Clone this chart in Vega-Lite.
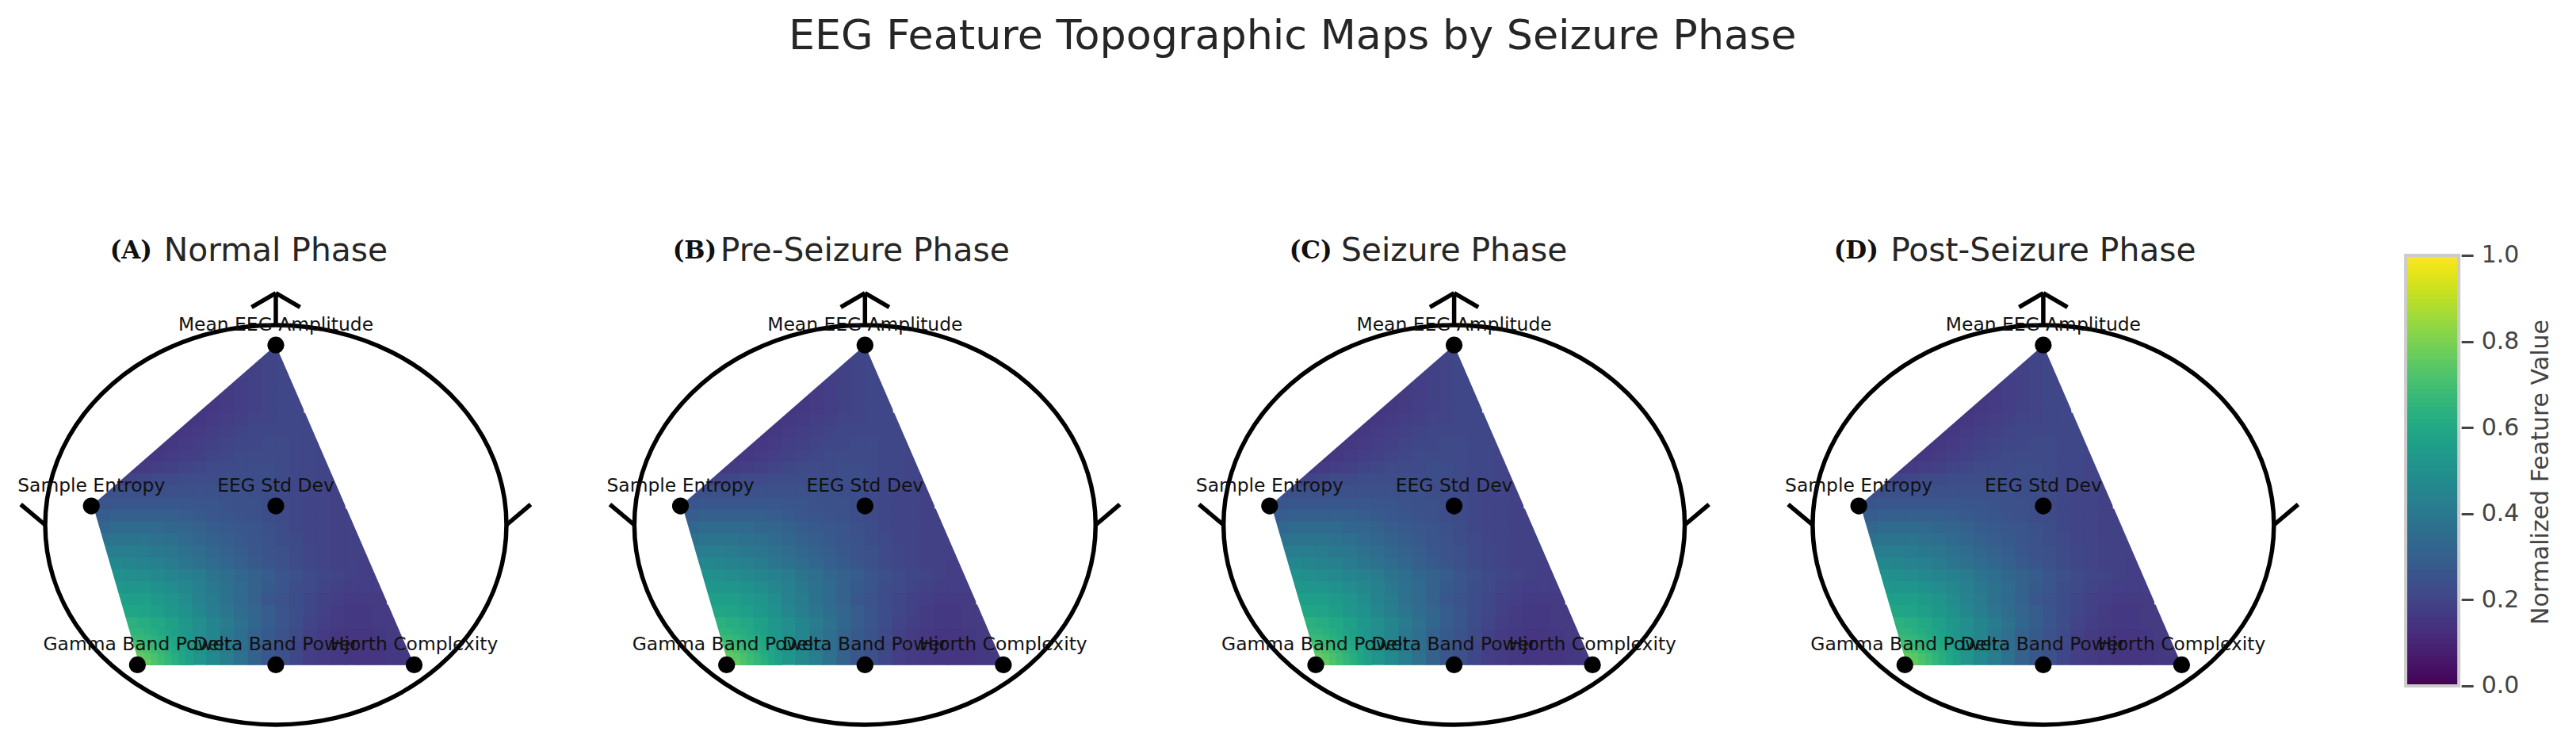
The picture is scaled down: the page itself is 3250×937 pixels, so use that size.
{"$schema":"https://vega.github.io/schema/vega-lite/v6.json","background":"white","padding":{"left":0,"top":20,"right":0,"bottom":0},"config":{"font":"DejaVu Sans","view":{"stroke":null}},"title":{"text":"EEG Feature Topographic Maps by Seizure Phase","anchor":"start","dx":995,"offset":222,"fontSize":52.3,"fontWeight":"normal","color":"#262626"},"bounds":"flush","spacing":47.3,
"datasets":{
"head":[{"i":0,"x":1,"y":0},{"i":1,"x":0.966,"y":0.259},{"i":2,"x":0.866,"y":0.5},{"i":3,"x":0.707,"y":0.707},{"i":4,"x":0.5,"y":0.866},{"i":5,"x":0.259,"y":0.966},{"i":6,"x":0,"y":1},{"i":7,"x":-0.259,"y":0.966},{"i":8,"x":-0.5,"y":0.866},{"i":9,"x":-0.707,"y":0.707},{"i":10,"x":-0.866,"y":0.5},{"i":11,"x":-0.966,"y":0.259},{"i":12,"x":-1,"y":0},{"i":13,"x":-0.966,"y":-0.259},{"i":14,"x":-0.866,"y":-0.5},{"i":15,"x":-0.707,"y":-0.707},{"i":16,"x":-0.5,"y":-0.866},{"i":17,"x":-0.259,"y":-0.966},{"i":18,"x":0,"y":-1},{"i":19,"x":0.259,"y":-0.966},{"i":20,"x":0.5,"y":-0.866},{"i":21,"x":0.707,"y":-0.707},{"i":22,"x":0.866,"y":-0.5},{"i":23,"x":0.966,"y":-0.259}],
"strokes":[{"x":0,"y":1,"x2":0,"y2":1.16},{"x":-0.105,"y":1.09,"x2":0,"y2":1.16},{"x":0.105,"y":1.09,"x2":0,"y2":1.16},{"x":-1,"y":0,"x2":-1.106,"y2":0.103},{"x":1,"y":0,"x2":1.105,"y2":0.103}],
"mask":[{"x":0.003,"y":1.031,"x2":0.685,"y2":-0.787},{"x":-0.909,"y":0.059,"x2":0.046,"y2":1.02},{"x":-0.875,"y":0.2245,"x2":-0.617,"y2":-0.7985}],
"electrodes":[{"x":0,"y":0.9,"name":"Mean EEG Amplitude"},{"x":0,"y":0.095,"name":"EEG Std Dev"},{"x":-0.8,"y":0.095,"name":"Sample Entropy"},{"x":-0.6,"y":-0.7,"name":"Gamma Band Power"},{"x":0,"y":-0.7,"name":"Delta Band Power"},{"x":0.6,"y":-0.7,"name":"Hjorth Complexity"}],
"bar":[{"v":0.005},{"v":0.015},{"v":0.025},{"v":0.035},{"v":0.045},{"v":0.055},{"v":0.065},{"v":0.075},{"v":0.085},{"v":0.095},{"v":0.105},{"v":0.115},{"v":0.125},{"v":0.135},{"v":0.145},{"v":0.155},{"v":0.165},{"v":0.175},{"v":0.185},{"v":0.195},{"v":0.205},{"v":0.215},{"v":0.225},{"v":0.235},{"v":0.245},{"v":0.255},{"v":0.265},{"v":0.275},{"v":0.285},{"v":0.295},{"v":0.305},{"v":0.315},{"v":0.325},{"v":0.335},{"v":0.345},{"v":0.355},{"v":0.365},{"v":0.375},{"v":0.385},{"v":0.395},{"v":0.405},{"v":0.415},{"v":0.425},{"v":0.435},{"v":0.445},{"v":0.455},{"v":0.465},{"v":0.475},{"v":0.485},{"v":0.495},{"v":0.505},{"v":0.515},{"v":0.525},{"v":0.535},{"v":0.545},{"v":0.555},{"v":0.565},{"v":0.575},{"v":0.585},{"v":0.595},{"v":0.605},{"v":0.615},{"v":0.625},{"v":0.635},{"v":0.645},{"v":0.655},{"v":0.665},{"v":0.675},{"v":0.685},{"v":0.695},{"v":0.705},{"v":0.715},{"v":0.725},{"v":0.735},{"v":0.745},{"v":0.755},{"v":0.765},{"v":0.775},{"v":0.785},{"v":0.795},{"v":0.805},{"v":0.815},{"v":0.825},{"v":0.835},{"v":0.845},{"v":0.855},{"v":0.865},{"v":0.875},{"v":0.885},{"v":0.895},{"v":0.905},{"v":0.915},{"v":0.925},{"v":0.935},{"v":0.945},{"v":0.955},{"v":0.965},{"v":0.975},{"v":0.985},{"v":0.995}],
"fine":[
{"x":-0.615,"y":-0.685,"v":0.8},{"x":-0.585,"y":-0.685,"v":0.79},{"x":-0.555,"y":-0.685,"v":0.76},{"x":-0.525,"y":-0.685,"v":0.72},{"x":-0.495,"y":-0.685,"v":0.69},{"x":-0.465,"y":-0.685,"v":0.66},{"x":-0.435,"y":-0.685,"v":0.63},{"x":-0.405,"y":-0.685,"v":0.6},{"x":-0.375,"y":-0.685,"v":0.57},
{"x":-0.615,"y":-0.655,"v":0.76},{"x":-0.585,"y":-0.655,"v":0.76},{"x":-0.555,"y":-0.655,"v":0.74},{"x":-0.525,"y":-0.655,"v":0.71},{"x":-0.495,"y":-0.655,"v":0.68},{"x":-0.465,"y":-0.655,"v":0.65},{"x":-0.435,"y":-0.655,"v":0.62},{"x":-0.405,"y":-0.655,"v":0.59},{"x":-0.375,"y":-0.655,"v":0.56},
{"x":-0.615,"y":-0.625,"v":0.74},{"x":-0.585,"y":-0.625,"v":0.73},{"x":-0.555,"y":-0.625,"v":0.71},{"x":-0.525,"y":-0.625,"v":0.68},{"x":-0.495,"y":-0.625,"v":0.66},{"x":-0.465,"y":-0.625,"v":0.63},{"x":-0.435,"y":-0.625,"v":0.61},{"x":-0.405,"y":-0.625,"v":0.58},{"x":-0.375,"y":-0.625,"v":0.55},
{"x":-0.615,"y":-0.595,"v":0.71},{"x":-0.585,"y":-0.595,"v":0.7},{"x":-0.555,"y":-0.595,"v":0.68},{"x":-0.525,"y":-0.595,"v":0.66},{"x":-0.495,"y":-0.595,"v":0.64},{"x":-0.465,"y":-0.595,"v":0.62},{"x":-0.435,"y":-0.595,"v":0.59},{"x":-0.405,"y":-0.595,"v":0.57},{"x":-0.375,"y":-0.595,"v":0.54},
{"x":-0.615,"y":-0.565,"v":0.68},{"x":-0.585,"y":-0.565,"v":0.67},{"x":-0.555,"y":-0.565,"v":0.66},{"x":-0.525,"y":-0.565,"v":0.64},{"x":-0.495,"y":-0.565,"v":0.62},{"x":-0.465,"y":-0.565,"v":0.6},{"x":-0.435,"y":-0.565,"v":0.58},{"x":-0.405,"y":-0.565,"v":0.56},{"x":-0.375,"y":-0.565,"v":0.53},
{"x":-0.615,"y":-0.535,"v":0.65},{"x":-0.585,"y":-0.535,"v":0.65},{"x":-0.555,"y":-0.535,"v":0.63},{"x":-0.525,"y":-0.535,"v":0.62},{"x":-0.495,"y":-0.535,"v":0.6},{"x":-0.465,"y":-0.535,"v":0.58},{"x":-0.435,"y":-0.535,"v":0.56},{"x":-0.405,"y":-0.535,"v":0.54},{"x":-0.375,"y":-0.535,"v":0.52}],
"cells":[
{"x":-0.63,"y":-0.67,"v":0.78},{"x":-0.57,"y":-0.67,"v":0.76},{"x":-0.51,"y":-0.67,"v":0.7},{"x":-0.45,"y":-0.67,"v":0.64},{"x":-0.39,"y":-0.67,"v":0.58},{"x":-0.33,"y":-0.67,"v":0.52},{"x":-0.27,"y":-0.67,"v":0.47},{"x":-0.21,"y":-0.67,"v":0.42},{"x":-0.15,"y":-0.67,"v":0.37},{"x":-0.09,"y":-0.67,"v":0.31},{"x":-0.03,"y":-0.67,"v":0.27},{"x":0.03,"y":-0.67,"v":0.24},{"x":0.09,"y":-0.67,"v":0.21},{"x":0.15,"y":-0.67,"v":0.18},{"x":0.21,"y":-0.67,"v":0.17},{"x":0.27,"y":-0.67,"v":0.16},{"x":0.33,"y":-0.67,"v":0.15},{"x":0.39,"y":-0.67,"v":0.15},{"x":0.45,"y":-0.67,"v":0.15},{"x":0.51,"y":-0.67,"v":0.16},{"x":0.57,"y":-0.67,"v":0.16},
{"x":-0.63,"y":-0.61,"v":0.74},{"x":-0.57,"y":-0.61,"v":0.72},{"x":-0.51,"y":-0.61,"v":0.67},{"x":-0.45,"y":-0.61,"v":0.62},{"x":-0.39,"y":-0.61,"v":0.57},{"x":-0.33,"y":-0.61,"v":0.51},{"x":-0.27,"y":-0.61,"v":0.46},{"x":-0.21,"y":-0.61,"v":0.41},{"x":-0.15,"y":-0.61,"v":0.36},{"x":-0.09,"y":-0.61,"v":0.31},{"x":-0.03,"y":-0.61,"v":0.27},{"x":0.03,"y":-0.61,"v":0.24},{"x":0.09,"y":-0.61,"v":0.21},{"x":0.15,"y":-0.61,"v":0.18},{"x":0.21,"y":-0.61,"v":0.17},{"x":0.27,"y":-0.61,"v":0.16},{"x":0.33,"y":-0.61,"v":0.15},{"x":0.39,"y":-0.61,"v":0.15},{"x":0.45,"y":-0.61,"v":0.15},{"x":0.51,"y":-0.61,"v":0.16},{"x":0.57,"y":-0.61,"v":0.17},
{"x":-0.63,"y":-0.55,"v":0.68},{"x":-0.57,"y":-0.55,"v":0.67},{"x":-0.51,"y":-0.55,"v":0.63},{"x":-0.45,"y":-0.55,"v":0.59},{"x":-0.39,"y":-0.55,"v":0.54},{"x":-0.33,"y":-0.55,"v":0.49},{"x":-0.27,"y":-0.55,"v":0.45},{"x":-0.21,"y":-0.55,"v":0.4},{"x":-0.15,"y":-0.55,"v":0.36},{"x":-0.09,"y":-0.55,"v":0.31},{"x":-0.03,"y":-0.55,"v":0.28},{"x":0.03,"y":-0.55,"v":0.25},{"x":0.09,"y":-0.55,"v":0.22},{"x":0.15,"y":-0.55,"v":0.19},{"x":0.21,"y":-0.55,"v":0.17},{"x":0.27,"y":-0.55,"v":0.16},{"x":0.33,"y":-0.55,"v":0.15},{"x":0.39,"y":-0.55,"v":0.15},{"x":0.45,"y":-0.55,"v":0.16},{"x":0.51,"y":-0.55,"v":0.17},{"x":0.57,"y":-0.55,"v":0.17},
{"x":-0.63,"y":-0.49,"v":0.64},{"x":-0.57,"y":-0.49,"v":0.62},{"x":-0.51,"y":-0.49,"v":0.6},{"x":-0.45,"y":-0.49,"v":0.57},{"x":-0.39,"y":-0.49,"v":0.53},{"x":-0.33,"y":-0.49,"v":0.49},{"x":-0.27,"y":-0.49,"v":0.45},{"x":-0.21,"y":-0.49,"v":0.41},{"x":-0.15,"y":-0.49,"v":0.37},{"x":-0.09,"y":-0.49,"v":0.33},{"x":-0.03,"y":-0.49,"v":0.29},{"x":0.03,"y":-0.49,"v":0.26},{"x":0.09,"y":-0.49,"v":0.23},{"x":0.15,"y":-0.49,"v":0.2},{"x":0.21,"y":-0.49,"v":0.18},{"x":0.27,"y":-0.49,"v":0.17},{"x":0.33,"y":-0.49,"v":0.16},{"x":0.39,"y":-0.49,"v":0.16},{"x":0.45,"y":-0.49,"v":0.17},{"x":0.51,"y":-0.49,"v":0.17},
{"x":-0.69,"y":-0.43,"v":0.6},{"x":-0.63,"y":-0.43,"v":0.59},{"x":-0.57,"y":-0.43,"v":0.58},{"x":-0.51,"y":-0.43,"v":0.56},{"x":-0.45,"y":-0.43,"v":0.53},{"x":-0.39,"y":-0.43,"v":0.5},{"x":-0.33,"y":-0.43,"v":0.46},{"x":-0.27,"y":-0.43,"v":0.42},{"x":-0.21,"y":-0.43,"v":0.39},{"x":-0.15,"y":-0.43,"v":0.35},{"x":-0.09,"y":-0.43,"v":0.32},{"x":-0.03,"y":-0.43,"v":0.29},{"x":0.03,"y":-0.43,"v":0.26},{"x":0.09,"y":-0.43,"v":0.23},{"x":0.15,"y":-0.43,"v":0.21},{"x":0.21,"y":-0.43,"v":0.19},{"x":0.27,"y":-0.43,"v":0.17},{"x":0.33,"y":-0.43,"v":0.16},{"x":0.39,"y":-0.43,"v":0.16},{"x":0.45,"y":-0.43,"v":0.17},{"x":0.51,"y":-0.43,"v":0.17},
{"x":-0.69,"y":-0.37,"v":0.57},{"x":-0.63,"y":-0.37,"v":0.56},{"x":-0.57,"y":-0.37,"v":0.56},{"x":-0.51,"y":-0.37,"v":0.54},{"x":-0.45,"y":-0.37,"v":0.52},{"x":-0.39,"y":-0.37,"v":0.48},{"x":-0.33,"y":-0.37,"v":0.44},{"x":-0.27,"y":-0.37,"v":0.41},{"x":-0.21,"y":-0.37,"v":0.37},{"x":-0.15,"y":-0.37,"v":0.34},{"x":-0.09,"y":-0.37,"v":0.31},{"x":-0.03,"y":-0.37,"v":0.27},{"x":0.03,"y":-0.37,"v":0.25},{"x":0.09,"y":-0.37,"v":0.23},{"x":0.15,"y":-0.37,"v":0.21},{"x":0.21,"y":-0.37,"v":0.19},{"x":0.27,"y":-0.37,"v":0.18},{"x":0.33,"y":-0.37,"v":0.17},{"x":0.39,"y":-0.37,"v":0.17},{"x":0.45,"y":-0.37,"v":0.17},
{"x":-0.69,"y":-0.31,"v":0.53},{"x":-0.63,"y":-0.31,"v":0.52},{"x":-0.57,"y":-0.31,"v":0.52},{"x":-0.51,"y":-0.31,"v":0.5},{"x":-0.45,"y":-0.31,"v":0.48},{"x":-0.39,"y":-0.31,"v":0.46},{"x":-0.33,"y":-0.31,"v":0.43},{"x":-0.27,"y":-0.31,"v":0.4},{"x":-0.21,"y":-0.31,"v":0.37},{"x":-0.15,"y":-0.31,"v":0.34},{"x":-0.09,"y":-0.31,"v":0.31},{"x":-0.03,"y":-0.31,"v":0.28},{"x":0.03,"y":-0.31,"v":0.26},{"x":0.09,"y":-0.31,"v":0.23},{"x":0.15,"y":-0.31,"v":0.22},{"x":0.21,"y":-0.31,"v":0.2},{"x":0.27,"y":-0.31,"v":0.19},{"x":0.33,"y":-0.31,"v":0.18},{"x":0.39,"y":-0.31,"v":0.18},{"x":0.45,"y":-0.31,"v":0.18},
{"x":-0.69,"y":-0.25,"v":0.5},{"x":-0.63,"y":-0.25,"v":0.49},{"x":-0.57,"y":-0.25,"v":0.48},{"x":-0.51,"y":-0.25,"v":0.47},{"x":-0.45,"y":-0.25,"v":0.45},{"x":-0.39,"y":-0.25,"v":0.43},{"x":-0.33,"y":-0.25,"v":0.41},{"x":-0.27,"y":-0.25,"v":0.38},{"x":-0.21,"y":-0.25,"v":0.36},{"x":-0.15,"y":-0.25,"v":0.33},{"x":-0.09,"y":-0.25,"v":0.31},{"x":-0.03,"y":-0.25,"v":0.29},{"x":0.03,"y":-0.25,"v":0.26},{"x":0.09,"y":-0.25,"v":0.24},{"x":0.15,"y":-0.25,"v":0.22},{"x":0.21,"y":-0.25,"v":0.21},{"x":0.27,"y":-0.25,"v":0.2},{"x":0.33,"y":-0.25,"v":0.19},{"x":0.39,"y":-0.25,"v":0.18},{"x":0.45,"y":-0.25,"v":0.18},
{"x":-0.75,"y":-0.19,"v":0.46},{"x":-0.69,"y":-0.19,"v":0.46},{"x":-0.63,"y":-0.19,"v":0.45},{"x":-0.57,"y":-0.19,"v":0.44},{"x":-0.51,"y":-0.19,"v":0.43},{"x":-0.45,"y":-0.19,"v":0.41},{"x":-0.39,"y":-0.19,"v":0.39},{"x":-0.33,"y":-0.19,"v":0.37},{"x":-0.27,"y":-0.19,"v":0.35},{"x":-0.21,"y":-0.19,"v":0.33},{"x":-0.15,"y":-0.19,"v":0.3},{"x":-0.09,"y":-0.19,"v":0.28},{"x":-0.03,"y":-0.19,"v":0.26},{"x":0.03,"y":-0.19,"v":0.24},{"x":0.09,"y":-0.19,"v":0.22},{"x":0.15,"y":-0.19,"v":0.21},{"x":0.21,"y":-0.19,"v":0.2},{"x":0.27,"y":-0.19,"v":0.19},{"x":0.33,"y":-0.19,"v":0.19},{"x":0.39,"y":-0.19,"v":0.18},
{"x":-0.75,"y":-0.13,"v":0.42},{"x":-0.69,"y":-0.13,"v":0.42},{"x":-0.63,"y":-0.13,"v":0.42},{"x":-0.57,"y":-0.13,"v":0.41},{"x":-0.51,"y":-0.13,"v":0.4},{"x":-0.45,"y":-0.13,"v":0.39},{"x":-0.39,"y":-0.13,"v":0.37},{"x":-0.33,"y":-0.13,"v":0.35},{"x":-0.27,"y":-0.13,"v":0.33},{"x":-0.21,"y":-0.13,"v":0.31},{"x":-0.15,"y":-0.13,"v":0.29},{"x":-0.09,"y":-0.13,"v":0.27},{"x":-0.03,"y":-0.13,"v":0.25},{"x":0.03,"y":-0.13,"v":0.24},{"x":0.09,"y":-0.13,"v":0.22},{"x":0.15,"y":-0.13,"v":0.21},{"x":0.21,"y":-0.13,"v":0.2},{"x":0.27,"y":-0.13,"v":0.19},{"x":0.33,"y":-0.13,"v":0.19},{"x":0.39,"y":-0.13,"v":0.19},
{"x":-0.75,"y":-0.07,"v":0.37},{"x":-0.69,"y":-0.07,"v":0.38},{"x":-0.63,"y":-0.07,"v":0.38},{"x":-0.57,"y":-0.07,"v":0.38},{"x":-0.51,"y":-0.07,"v":0.37},{"x":-0.45,"y":-0.07,"v":0.36},{"x":-0.39,"y":-0.07,"v":0.34},{"x":-0.33,"y":-0.07,"v":0.33},{"x":-0.27,"y":-0.07,"v":0.31},{"x":-0.21,"y":-0.07,"v":0.29},{"x":-0.15,"y":-0.07,"v":0.28},{"x":-0.09,"y":-0.07,"v":0.26},{"x":-0.03,"y":-0.07,"v":0.25},{"x":0.03,"y":-0.07,"v":0.23},{"x":0.09,"y":-0.07,"v":0.22},{"x":0.15,"y":-0.07,"v":0.2},{"x":0.21,"y":-0.07,"v":0.2},{"x":0.27,"y":-0.07,"v":0.19},{"x":0.33,"y":-0.07,"v":0.19},{"x":0.39,"y":-0.07,"v":0.19},
{"x":-0.75,"y":-0.01,"v":0.33},{"x":-0.69,"y":-0.01,"v":0.34},{"x":-0.63,"y":-0.01,"v":0.34},{"x":-0.57,"y":-0.01,"v":0.34},{"x":-0.51,"y":-0.01,"v":0.34},{"x":-0.45,"y":-0.01,"v":0.33},{"x":-0.39,"y":-0.01,"v":0.32},{"x":-0.33,"y":-0.01,"v":0.31},{"x":-0.27,"y":-0.01,"v":0.29},{"x":-0.21,"y":-0.01,"v":0.28},{"x":-0.15,"y":-0.01,"v":0.27},{"x":-0.09,"y":-0.01,"v":0.26},{"x":-0.03,"y":-0.01,"v":0.24},{"x":0.03,"y":-0.01,"v":0.23},{"x":0.09,"y":-0.01,"v":0.21},{"x":0.15,"y":-0.01,"v":0.2},{"x":0.21,"y":-0.01,"v":0.2},{"x":0.27,"y":-0.01,"v":0.19},{"x":0.33,"y":-0.01,"v":0.19},
{"x":-0.81,"y":0.05,"v":0.27},{"x":-0.75,"y":0.05,"v":0.29},{"x":-0.69,"y":0.05,"v":0.3},{"x":-0.63,"y":0.05,"v":0.3},{"x":-0.57,"y":0.05,"v":0.3},{"x":-0.51,"y":0.05,"v":0.3},{"x":-0.45,"y":0.05,"v":0.3},{"x":-0.39,"y":0.05,"v":0.29},{"x":-0.33,"y":0.05,"v":0.28},{"x":-0.27,"y":0.05,"v":0.27},{"x":-0.21,"y":0.05,"v":0.26},{"x":-0.15,"y":0.05,"v":0.25},{"x":-0.09,"y":0.05,"v":0.24},{"x":-0.03,"y":0.05,"v":0.23},{"x":0.03,"y":0.05,"v":0.22},{"x":0.09,"y":0.05,"v":0.21},{"x":0.15,"y":0.05,"v":0.2},{"x":0.21,"y":0.05,"v":0.2},{"x":0.27,"y":0.05,"v":0.19},{"x":0.33,"y":0.05,"v":0.19},
{"x":-0.81,"y":0.11,"v":0.25},{"x":-0.75,"y":0.11,"v":0.26},{"x":-0.69,"y":0.11,"v":0.27},{"x":-0.63,"y":0.11,"v":0.27},{"x":-0.57,"y":0.11,"v":0.27},{"x":-0.51,"y":0.11,"v":0.27},{"x":-0.45,"y":0.11,"v":0.27},{"x":-0.39,"y":0.11,"v":0.27},{"x":-0.33,"y":0.11,"v":0.26},{"x":-0.27,"y":0.11,"v":0.26},{"x":-0.21,"y":0.11,"v":0.25},{"x":-0.15,"y":0.11,"v":0.24},{"x":-0.09,"y":0.11,"v":0.24},{"x":-0.03,"y":0.11,"v":0.23},{"x":0.03,"y":0.11,"v":0.22},{"x":0.09,"y":0.11,"v":0.21},{"x":0.15,"y":0.11,"v":0.2},{"x":0.21,"y":0.11,"v":0.2},{"x":0.27,"y":0.11,"v":0.19},
{"x":-0.75,"y":0.17,"v":0.23},{"x":-0.69,"y":0.17,"v":0.24},{"x":-0.63,"y":0.17,"v":0.24},{"x":-0.57,"y":0.17,"v":0.24},{"x":-0.51,"y":0.17,"v":0.24},{"x":-0.45,"y":0.17,"v":0.24},{"x":-0.39,"y":0.17,"v":0.24},{"x":-0.33,"y":0.17,"v":0.24},{"x":-0.27,"y":0.17,"v":0.24},{"x":-0.21,"y":0.17,"v":0.24},{"x":-0.15,"y":0.17,"v":0.24},{"x":-0.09,"y":0.17,"v":0.23},{"x":-0.03,"y":0.17,"v":0.23},{"x":0.03,"y":0.17,"v":0.22},{"x":0.09,"y":0.17,"v":0.21},{"x":0.15,"y":0.17,"v":0.2},{"x":0.21,"y":0.17,"v":0.2},{"x":0.27,"y":0.17,"v":0.19},
{"x":-0.69,"y":0.23,"v":0.19},{"x":-0.63,"y":0.23,"v":0.2},{"x":-0.57,"y":0.23,"v":0.21},{"x":-0.51,"y":0.23,"v":0.22},{"x":-0.45,"y":0.23,"v":0.22},{"x":-0.39,"y":0.23,"v":0.23},{"x":-0.33,"y":0.23,"v":0.23},{"x":-0.27,"y":0.23,"v":0.23},{"x":-0.21,"y":0.23,"v":0.23},{"x":-0.15,"y":0.23,"v":0.23},{"x":-0.09,"y":0.23,"v":0.23},{"x":-0.03,"y":0.23,"v":0.23},{"x":0.03,"y":0.23,"v":0.22},{"x":0.09,"y":0.23,"v":0.21},{"x":0.15,"y":0.23,"v":0.21},{"x":0.21,"y":0.23,"v":0.2},{"x":0.27,"y":0.23,"v":0.19},
{"x":-0.63,"y":0.29,"v":0.16},{"x":-0.57,"y":0.29,"v":0.17},{"x":-0.51,"y":0.29,"v":0.18},{"x":-0.45,"y":0.29,"v":0.19},{"x":-0.39,"y":0.29,"v":0.2},{"x":-0.33,"y":0.29,"v":0.21},{"x":-0.27,"y":0.29,"v":0.22},{"x":-0.21,"y":0.29,"v":0.22},{"x":-0.15,"y":0.29,"v":0.22},{"x":-0.09,"y":0.29,"v":0.23},{"x":-0.03,"y":0.29,"v":0.23},{"x":0.03,"y":0.29,"v":0.22},{"x":0.09,"y":0.29,"v":0.21},{"x":0.15,"y":0.29,"v":0.21},{"x":0.21,"y":0.29,"v":0.2},
{"x":-0.57,"y":0.35,"v":0.15},{"x":-0.51,"y":0.35,"v":0.16},{"x":-0.45,"y":0.35,"v":0.17},{"x":-0.39,"y":0.35,"v":0.18},{"x":-0.33,"y":0.35,"v":0.19},{"x":-0.27,"y":0.35,"v":0.2},{"x":-0.21,"y":0.35,"v":0.21},{"x":-0.15,"y":0.35,"v":0.22},{"x":-0.09,"y":0.35,"v":0.22},{"x":-0.03,"y":0.35,"v":0.22},{"x":0.03,"y":0.35,"v":0.22},{"x":0.09,"y":0.35,"v":0.21},{"x":0.15,"y":0.35,"v":0.21},{"x":0.21,"y":0.35,"v":0.2},
{"x":-0.51,"y":0.41,"v":0.15},{"x":-0.45,"y":0.41,"v":0.16},{"x":-0.39,"y":0.41,"v":0.17},{"x":-0.33,"y":0.41,"v":0.18},{"x":-0.27,"y":0.41,"v":0.19},{"x":-0.21,"y":0.41,"v":0.2},{"x":-0.15,"y":0.41,"v":0.21},{"x":-0.09,"y":0.41,"v":0.21},{"x":-0.03,"y":0.41,"v":0.22},{"x":0.03,"y":0.41,"v":0.22},{"x":0.09,"y":0.41,"v":0.21},{"x":0.15,"y":0.41,"v":0.21},{"x":0.21,"y":0.41,"v":0.2},
{"x":-0.45,"y":0.47,"v":0.15},{"x":-0.39,"y":0.47,"v":0.16},{"x":-0.33,"y":0.47,"v":0.17},{"x":-0.27,"y":0.47,"v":0.18},{"x":-0.21,"y":0.47,"v":0.19},{"x":-0.15,"y":0.47,"v":0.2},{"x":-0.09,"y":0.47,"v":0.21},{"x":-0.03,"y":0.47,"v":0.21},{"x":0.03,"y":0.47,"v":0.21},{"x":0.09,"y":0.47,"v":0.21},{"x":0.15,"y":0.47,"v":0.21},
{"x":-0.39,"y":0.53,"v":0.15},{"x":-0.33,"y":0.53,"v":0.16},{"x":-0.27,"y":0.53,"v":0.17},{"x":-0.21,"y":0.53,"v":0.18},{"x":-0.15,"y":0.53,"v":0.19},{"x":-0.09,"y":0.53,"v":0.2},{"x":-0.03,"y":0.53,"v":0.2},{"x":0.03,"y":0.53,"v":0.21},{"x":0.09,"y":0.53,"v":0.21},{"x":0.15,"y":0.53,"v":0.21},
{"x":-0.33,"y":0.59,"v":0.15},{"x":-0.27,"y":0.59,"v":0.16},{"x":-0.21,"y":0.59,"v":0.17},{"x":-0.15,"y":0.59,"v":0.18},{"x":-0.09,"y":0.59,"v":0.19},{"x":-0.03,"y":0.59,"v":0.2},{"x":0.03,"y":0.59,"v":0.21},{"x":0.09,"y":0.59,"v":0.21},
{"x":-0.27,"y":0.65,"v":0.16},{"x":-0.21,"y":0.65,"v":0.17},{"x":-0.15,"y":0.65,"v":0.18},{"x":-0.09,"y":0.65,"v":0.19},{"x":-0.03,"y":0.65,"v":0.2},{"x":0.03,"y":0.65,"v":0.21},{"x":0.09,"y":0.65,"v":0.21},
{"x":-0.21,"y":0.71,"v":0.17},{"x":-0.15,"y":0.71,"v":0.18},{"x":-0.09,"y":0.71,"v":0.19},{"x":-0.03,"y":0.71,"v":0.2},{"x":0.03,"y":0.71,"v":0.21},{"x":0.09,"y":0.71,"v":0.21},
{"x":-0.15,"y":0.77,"v":0.19},{"x":-0.09,"y":0.77,"v":0.19},{"x":-0.03,"y":0.77,"v":0.2},{"x":0.03,"y":0.77,"v":0.21},
{"x":-0.09,"y":0.83,"v":0.19},{"x":-0.03,"y":0.83,"v":0.2},{"x":0.03,"y":0.83,"v":0.21},
{"x":-0.03,"y":0.89,"v":0.21},{"x":0.03,"y":0.89,"v":0.21}
]},
"hconcat":[
{"width":696,"height":620,"encoding":{"x":{"field":"x","type":"quantitative","scale":{"domain":[-1.196,1.196]},"axis":null},"y":{"field":"y","type":"quantitative","scale":{"domain":[-1.0397,1.4206]},"axis":null}},"layer":[
{"data":{"name":"cells"},"mark":{"type":"rect","width":18.5,"height":16},"encoding":{"color":{"field":"v","type":"quantitative","scale":{"scheme":"viridis","domain":[0,1]},"legend":null}}},
{"data":{"name":"fine"},"mark":{"type":"rect","width":9.7,"height":8.6},"encoding":{"color":{"field":"v","type":"quantitative","scale":{"scheme":"viridis","domain":[0,1]},"legend":null}}},
{"data":{"name":"mask"},"mark":{"type":"rule","color":"white","strokeWidth":28},"encoding":{"x2":{"field":"x2"},"y2":{"field":"y2"}}},
{"data":{"name":"head"},"mark":{"type":"line","color":"black","strokeWidth":5.5,"interpolate":"cardinal-closed"},"encoding":{"order":{"field":"i"}}},
{"data":{"name":"strokes"},"mark":{"type":"rule","color":"black","strokeWidth":5.5},"encoding":{"x2":{"field":"x2"},"y2":{"field":"y2"}}},
{"data":{"name":"electrodes"},"mark":{"type":"circle","color":"black","size":450,"opacity":1}},
{"data":{"name":"electrodes"},"mark":{"type":"text","fontSize":23.4,"dy":-25,"color":"#111111"},"encoding":{"text":{"field":"name"}}},
{"data":{"values":[{"x":0,"y":1.37,"t":"Normal Phase"}]},"mark":{"type":"text","fontSize":40.8,"color":"#262626"},"encoding":{"text":{"field":"t"}}},
{"data":{"values":[{"x":-0.536,"y":1.37,"t":"(A)"}]},"mark":{"type":"text","fontSize":31,"align":"right","font":"DejaVu Serif","fontWeight":"bold","color":"#111111"},"encoding":{"text":{"field":"t"}}}
]},
{"width":696,"height":620,"encoding":{"x":{"field":"x","type":"quantitative","scale":{"domain":[-1.196,1.196]},"axis":null},"y":{"field":"y","type":"quantitative","scale":{"domain":[-1.0397,1.4206]},"axis":null}},"layer":[
{"data":{"name":"cells"},"mark":{"type":"rect","width":18.5,"height":16},"encoding":{"color":{"field":"v","type":"quantitative","scale":{"scheme":"viridis","domain":[0,1]},"legend":null}}},
{"data":{"name":"fine"},"mark":{"type":"rect","width":9.7,"height":8.6},"encoding":{"color":{"field":"v","type":"quantitative","scale":{"scheme":"viridis","domain":[0,1]},"legend":null}}},
{"data":{"name":"mask"},"mark":{"type":"rule","color":"white","strokeWidth":28},"encoding":{"x2":{"field":"x2"},"y2":{"field":"y2"}}},
{"data":{"name":"head"},"mark":{"type":"line","color":"black","strokeWidth":5.5,"interpolate":"cardinal-closed"},"encoding":{"order":{"field":"i"}}},
{"data":{"name":"strokes"},"mark":{"type":"rule","color":"black","strokeWidth":5.5},"encoding":{"x2":{"field":"x2"},"y2":{"field":"y2"}}},
{"data":{"name":"electrodes"},"mark":{"type":"circle","color":"black","size":450,"opacity":1}},
{"data":{"name":"electrodes"},"mark":{"type":"text","fontSize":23.4,"dy":-25,"color":"#111111"},"encoding":{"text":{"field":"name"}}},
{"data":{"values":[{"x":0,"y":1.37,"t":"Pre-Seizure Phase"}]},"mark":{"type":"text","fontSize":40.8,"color":"#262626"},"encoding":{"text":{"field":"t"}}},
{"data":{"values":[{"x":-0.643,"y":1.37,"t":"(B)"}]},"mark":{"type":"text","fontSize":31,"align":"right","font":"DejaVu Serif","fontWeight":"bold","color":"#111111"},"encoding":{"text":{"field":"t"}}}
]},
{"width":696,"height":620,"encoding":{"x":{"field":"x","type":"quantitative","scale":{"domain":[-1.196,1.196]},"axis":null},"y":{"field":"y","type":"quantitative","scale":{"domain":[-1.0397,1.4206]},"axis":null}},"layer":[
{"data":{"name":"cells"},"mark":{"type":"rect","width":18.5,"height":16},"encoding":{"color":{"field":"v","type":"quantitative","scale":{"scheme":"viridis","domain":[0,1]},"legend":null}}},
{"data":{"name":"fine"},"mark":{"type":"rect","width":9.7,"height":8.6},"encoding":{"color":{"field":"v","type":"quantitative","scale":{"scheme":"viridis","domain":[0,1]},"legend":null}}},
{"data":{"name":"mask"},"mark":{"type":"rule","color":"white","strokeWidth":28},"encoding":{"x2":{"field":"x2"},"y2":{"field":"y2"}}},
{"data":{"name":"head"},"mark":{"type":"line","color":"black","strokeWidth":5.5,"interpolate":"cardinal-closed"},"encoding":{"order":{"field":"i"}}},
{"data":{"name":"strokes"},"mark":{"type":"rule","color":"black","strokeWidth":5.5},"encoding":{"x2":{"field":"x2"},"y2":{"field":"y2"}}},
{"data":{"name":"electrodes"},"mark":{"type":"circle","color":"black","size":450,"opacity":1}},
{"data":{"name":"electrodes"},"mark":{"type":"text","fontSize":23.4,"dy":-25,"color":"#111111"},"encoding":{"text":{"field":"name"}}},
{"data":{"values":[{"x":0,"y":1.37,"t":"Seizure Phase"}]},"mark":{"type":"text","fontSize":40.8,"color":"#262626"},"encoding":{"text":{"field":"t"}}},
{"data":{"values":[{"x":-0.529,"y":1.37,"t":"(C)"}]},"mark":{"type":"text","fontSize":31,"align":"right","font":"DejaVu Serif","fontWeight":"bold","color":"#111111"},"encoding":{"text":{"field":"t"}}}
]},
{"width":696,"height":620,"encoding":{"x":{"field":"x","type":"quantitative","scale":{"domain":[-1.196,1.196]},"axis":null},"y":{"field":"y","type":"quantitative","scale":{"domain":[-1.0397,1.4206]},"axis":null}},"layer":[
{"data":{"name":"cells"},"mark":{"type":"rect","width":18.5,"height":16},"encoding":{"color":{"field":"v","type":"quantitative","scale":{"scheme":"viridis","domain":[0,1]},"legend":null}}},
{"data":{"name":"fine"},"mark":{"type":"rect","width":9.7,"height":8.6},"encoding":{"color":{"field":"v","type":"quantitative","scale":{"scheme":"viridis","domain":[0,1]},"legend":null}}},
{"data":{"name":"mask"},"mark":{"type":"rule","color":"white","strokeWidth":28},"encoding":{"x2":{"field":"x2"},"y2":{"field":"y2"}}},
{"data":{"name":"head"},"mark":{"type":"line","color":"black","strokeWidth":5.5,"interpolate":"cardinal-closed"},"encoding":{"order":{"field":"i"}}},
{"data":{"name":"strokes"},"mark":{"type":"rule","color":"black","strokeWidth":5.5},"encoding":{"x2":{"field":"x2"},"y2":{"field":"y2"}}},
{"data":{"name":"electrodes"},"mark":{"type":"circle","color":"black","size":450,"opacity":1}},
{"data":{"name":"electrodes"},"mark":{"type":"text","fontSize":23.4,"dy":-25,"color":"#111111"},"encoding":{"text":{"field":"name"}}},
{"data":{"values":[{"x":0,"y":1.37,"t":"Post-Seizure Phase"}]},"mark":{"type":"text","fontSize":40.8,"color":"#262626"},"encoding":{"text":{"field":"t"}}},
{"data":{"values":[{"x":-0.715,"y":1.37,"t":"(D)"}]},"mark":{"type":"text","fontSize":31,"align":"right","font":"DejaVu Serif","fontWeight":"bold","color":"#111111"},"encoding":{"text":{"field":"t"}}}
]},
{"width":129,"height":620,"encoding":{"x":{"datum":0.48,"type":"quantitative","scale":{"domain":[0,1]},"axis":null},"x2":{"datum":1},"y":{"field":"v","type":"quantitative","scale":{"domain":[-0.1087,1.0331]},"axis":{"values":[0,0.2,0.4,0.6,0.8,1],"format":".1f","orient":"right","domain":false,"grid":false,"ticks":true,"tickSize":15,"tickWidth":3,"tickColor":"#444444","offset":3,"labelFontSize":30,"labelColor":"#444444","labelPadding":10,"title":"Normalized Feature Value","titleFontSize":30,"titleFontWeight":"normal","titleColor":"#444444","titleAngle":270,"titleX":100,"titleY":291,"titleAlign":"center","titleBaseline":"middle"}}},"layer":[
{"data":{"name":"bar"},"mark":{"type":"rect","height":6.6},"encoding":{"color":{"field":"v","type":"quantitative","scale":{"scheme":"viridis","domain":[0,1]},"legend":null}}},
{"data":{"values":[{"v":0,"v2":1}]},"mark":{"type":"rect","fillOpacity":0,"stroke":"#cccccc","strokeWidth":4},"encoding":{"y2":{"field":"v2"}}}
]}
]}
